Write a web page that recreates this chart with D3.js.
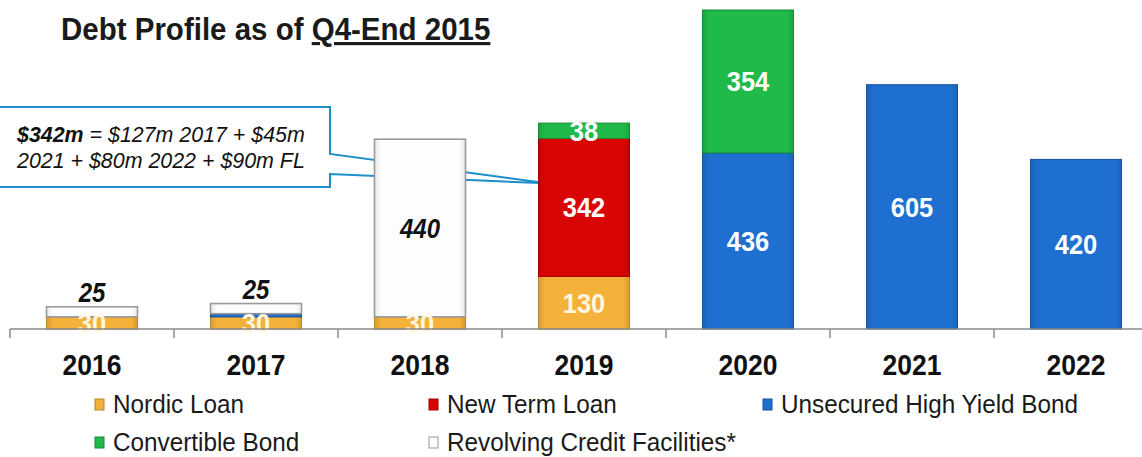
<!DOCTYPE html>
<html>
<head>
<meta charset="utf-8">
<script src="https://cdn.jsdelivr.net/npm/d3@7"></script>
<style>
  html, body { margin: 0; padding: 0; background: #ffffff; }
  svg { display: block; font-family: Arial, "Liberation Sans", sans-serif; }
</style>
</head>
<body>
<svg id="chart" width="1142" height="457"></svg>
<script>
// ---- data ----
const categories = ["2016", "2017", "2018", "2019", "2020", "2021", "2022"];
const nordicLoan      = [30, 30, 30, 130, 0, 0, 0];
const newTermLoan     = [0, 0, 0, 342, 0, 0, 0];
const unsecuredBond   = [0, 8, 0, 0, 436, 605, 420];
const convertibleBond = [0, 0, 0, 38, 354, 0, 0];
const revolvingCredit = [25, 25, 440, 0, 0, 0, 0];
const seriesNames = ["Nordic Loan", "New Term Loan", "Unsecured High Yield Bond", "Convertible Bond", "Revolving Credit Facilities*"];
const titleMain = "Debt Profile as of ";
const titleUnderlined = "Q4-End 2015";
const calloutBold = "$342m";
const calloutLine1 = " = $127m 2017 + $45m";
const calloutLine2 = "2021 + $80m 2022 + $90m FL";

// ---- setup ----
const svg = d3.select("#chart");
const colors = {
  "Nordic Loan": "#F4B23A",
  "New Term Loan": "#D90404",
  "Unsecured High Yield Bond": "#1E6FCF",
  "Convertible Bond": "#1FBA49",
  "Revolving Credit Facilities*": "#FDFDFD"
};
const stackData = categories.map((c, i) => ({
  cat: c,
  "Nordic Loan": nordicLoan[i],
  "New Term Loan": newTermLoan[i],
  "Unsecured High Yield Bond": unsecuredBond[i],
  "Convertible Bond": convertibleBond[i],
  "Revolving Credit Facilities*": revolvingCredit[i]
}));
const stacked = d3.stack().keys(seriesNames)(stackData);

const x = d3.scaleBand().domain(categories).range([10, 1158]).paddingInner(0.445).paddingOuter(0.2225);
const y = d3.scaleLinear().domain([0, 790]).range([329, 10]);

// gradients
const defs = svg.append("defs");
seriesNames.forEach((s, k) => {
  const base = d3.color(colors[s]);
  const g = defs.append("linearGradient").attr("id", "g" + k).attr("x1", 0).attr("x2", 1).attr("y1", 0).attr("y2", 0);
  const edge = s.startsWith("Revolving") ? d3.color("#e8e8e8") : base.darker(0.35);
  g.append("stop").attr("offset", "0%").attr("stop-color", edge);
  g.append("stop").attr("offset", "7%").attr("stop-color", base);
  g.append("stop").attr("offset", "93%").attr("stop-color", base);
  g.append("stop").attr("offset", "100%").attr("stop-color", edge);
});

// title
const title = svg.append("text").attr("transform", "translate(61,40) scale(1,1.05)")
  .attr("font-size", 29.5).attr("font-weight", "bold").attr("fill", "#1a1a1a");
title.append("tspan").text(titleMain);
title.append("tspan").text(titleUnderlined).style("text-decoration", "underline");

// callout (drawn before bars so the 2018 bar hides the pointer lines)
const tipX = x("2019");
const callout = d3.path();
callout.moveTo(-5, 107); callout.lineTo(330, 107); callout.lineTo(330, 154);
callout.lineTo(tipX, 182); callout.lineTo(tipX, 183);
callout.lineTo(330, 174); callout.lineTo(330, 187); callout.lineTo(-5, 187); callout.closePath();
svg.append("path").attr("d", callout.toString()).attr("fill", "#fff")
  .attr("stroke", "#1C8FCB").attr("stroke-width", 2);
const ct = svg.append("text").attr("x", 17).attr("y", 142).attr("font-size", 21.4)
  .attr("font-style", "italic").attr("fill", "#111");
ct.append("tspan").attr("font-weight", "bold").text(calloutBold);
ct.append("tspan").text(calloutLine1);
svg.append("text").attr("x", 17).attr("y", 168).attr("font-size", 21.4)
  .attr("font-style", "italic").attr("fill", "#111").text(calloutLine2);

// bars
const layers = svg.append("g").selectAll("g").data(stacked).join("g")
  .attr("fill", (d, k) => `url(#g${k})`)
  .attr("stroke", d => d.key.startsWith("Revolving") ? "#9a9a9a" : d3.color(colors[d.key]).darker(0.8))
  .attr("stroke-width", d => d.key.startsWith("Revolving") ? 1.6 : 1);
layers.selectAll("rect").data(d => d.filter(v => v[1] - v[0] > 0)).join("rect")
  .attr("x", d => x(d.data.cat))
  .attr("width", x.bandwidth())
  .attr("y", d => y(d[1]))
  .attr("height", d => y(d[0]) - y(d[1]));

// labels
const labels = svg.append("g").attr("text-anchor", "middle").attr("font-weight", "bold");
stacked.forEach(layer => {
  layer.forEach(d => {
    const v = d[1] - d[0];
    if (v < 20) return;
    const cx = x(d.data.cat) + x.bandwidth() / 2;
    const h = y(d[0]) - y(d[1]);
    const isRev = layer.key.startsWith("Revolving");
    let ty = (y(d[0]) + y(d[1])) / 2 + 10;
    if (isRev && h < 25) ty = y(d[1]) - 5;
    labels.append("text")
      .attr("transform", `translate(${cx},${ty}) scale(1,1.12)`)
      .attr("font-size", isRev ? 24 : 25.5)
      .attr("font-style", isRev ? "italic" : "normal")
      .attr("fill", isRev ? "#111" : (layer.key === "Nordic Loan" ? "#fff6e0" : "#ffffff"))
      .text(v);
  });
});

// axis
const axisG = svg.append("g");
axisG.append("line").attr("x1", 10).attr("x2", 1142).attr("y1", 329).attr("y2", 329)
  .attr("stroke", "#8a8a8a").attr("stroke-width", 1.5);
const step = x.step();
categories.forEach(c => {
  const bx = x(c) - step * x.paddingInner() / 2;
  axisG.append("line").attr("x1", bx).attr("x2", bx).attr("y1", 329).attr("y2", 338)
    .attr("stroke", "#8a8a8a").attr("stroke-width", 1.5);
});
const xAxis = svg.append("g").attr("transform", "translate(0,329)")
  .call(d3.axisBottom(x).tickSize(0).tickPadding(0));
xAxis.select(".domain").remove();
xAxis.selectAll("text").attr("dy", null).attr("y", 0)
  .attr("transform", "translate(0,46) scale(1,1.12)")
  .attr("font-size", 26.5).attr("font-weight", "bold").attr("fill", "#111")
  .attr("font-family", "Arial, 'Liberation Sans', sans-serif");

// legend
const legendPos = [
  {x: 113, y: 413}, {x: 447, y: 413}, {x: 781, y: 413},
  {x: 113, y: 451}, {x: 447, y: 451}
];
const legendOrder = ["Nordic Loan", "New Term Loan", "Unsecured High Yield Bond", "Convertible Bond", "Revolving Credit Facilities*"];
const lg = svg.append("g");
legendOrder.forEach((s, i) => {
  const p = legendPos[i];
  const k = seriesNames.indexOf(s);
  lg.append("rect").attr("x", p.x - 18).attr("y", p.y - 14).attr("width", 9).attr("height", 11)
    .attr("fill", `url(#g${k})`)
    .attr("stroke", s.startsWith("Revolving") ? "#999" : d3.color(colors[s]).darker(0.8))
    .attr("stroke-width", 1);
  lg.append("text").attr("transform", `translate(${p.x},${p.y}) scale(1,1.08)`)
    .attr("font-size", 24.3).attr("fill", "#1a1a1a").text(s);
});
</script>
</body>
</html>
